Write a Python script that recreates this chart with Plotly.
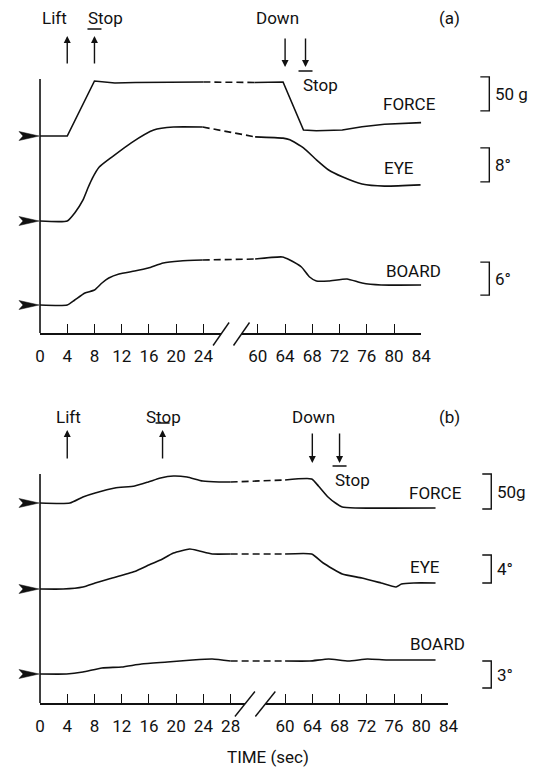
import plotly.graph_objects as go

FIG_W, FIG_H = 546, 767
INK = "#111111"
FONT_FAMILY = "Liberation Sans Narrow, Roboto, sans-serif"

# ---- values (time in s) ----
# panel (a)
A_FORCE_T = [0, 4, 8, 9.5, 11, 14, 18, 24, 59.5, 63.7, 66.7, 68.6, 72.4, 75.3, 78.6, 84]
A_FORCE_G = [0, 0, 80.9, 79.4, 77.9, 78.7, 79.4, 79.4, 78.7, 79.4, 8.8, 7.8, 8.8, 13.7, 17.2, 19.6]
A_EYE_T = [0, 4, 5.1, 6.3, 7.1, 7.7, 8.7, 10.6, 13.4, 16.7, 19.6, 23.9,
           59.6, 63.7, 64.7, 66.7, 68.6, 70.4, 72.4, 75.3, 78.6, 83.9]
A_EYE_DEG = [0, 0, 1.9, 4.9, 8.0, 10.1, 12.7, 15.1, 18.4, 21.4, 22.1, 22.1,
             19.8, 19.5, 19.1, 17.2, 14.4, 12.0, 10.4, 8.7, 8.2, 8.5]
A_BOARD_T = [0, 4, 5.1, 6.6, 8, 9.1, 10.1, 11.6, 13.9, 15.9, 18.1, 20.6, 23.9,
             59.6, 63.6, 64.7, 66.4, 67.6, 68.6, 70.4, 73.1, 75.3, 78.1, 84]
A_BOARD_DEG = [0, 0, 0.91, 2.18, 2.73, 4.0, 4.9, 5.64, 6.18, 6.73, 7.64, 8.0, 8.18,
               8.36, 8.73, 8.18, 6.91, 5.09, 4.36, 4.36, 4.73, 4.0, 3.64, 3.64]

# panel (b)
B_FORCE_T = [0, 4.4, 6.3, 8.1, 11, 13.9, 15.9, 17.7, 19.6, 21.6, 23.9, 26.3, 28,
             60, 63.9, 64.9, 66.3, 67.4, 68.4, 70.3, 82.1]
B_FORCE_G = [0, 0, 8.6, 14.3, 21.4, 24.3, 30, 35.7, 38.6, 37.1, 31.4, 30, 30,
             32.9, 34.3, 24.3, 8.6, 0, -5.7, -7.1, -7.1]
B_EYE_T = [0, 3.4, 6.3, 8.1, 10.1, 13.9, 16.3, 17.7, 19.6, 22, 23.4, 25.3, 28,
           60, 63.9, 65.6, 68.4, 71.3, 74.1, 76.3, 77.1, 78.9, 82.1]
B_EYE_DEG = [0, 0, 0.29, 0.86, 1.43, 2.5, 3.57, 4.14, 5.14, 5.71, 5.43, 5.0, 5.0,
             5.0, 5.0, 3.71, 2.14, 1.57, 0.86, 0.29, 0.71, 0.86, 0.86]
B_BOARD_T = [0, 3.9, 6.3, 9.1, 12, 14.9, 18.7, 22.4, 25.3, 28,
             60, 63.6, 66.4, 69.3, 72.1, 75, 82.1]
B_BOARD_DEG = [0, 0, 0.22, 0.67, 0.78, 1.11, 1.33, 1.56, 1.67, 1.44,
               1.44, 1.44, 1.67, 1.44, 1.67, 1.56, 1.56]

A_TICKS = [0, 4, 8, 12, 16, 20, 24, 60, 64, 68, 72, 76, 80, 84]
B_TICKS = [0, 4, 8, 12, 16, 20, 24, 28, 60, 64, 68, 72, 76, 80, 84]
EVENT_NAMES = ["Lift", "Stop", "Down", "Stop"]
A_EVENT_T = [4, 8, 64, 67]
B_EVENT_T = [4, 18, 64, 68]


def fx(p):
    return p / FIG_W


def fy(p):
    return 1 - p / FIG_H


# layout of the two panels (pixel positions on the page)
PANELS = [
    dict(tag="(a)", x="x", shift=28, x_end=56, ticks=A_TICKS, events=A_EVENT_T,
         bottom=333, top=40, line_top=79, brk=(26.6, 29.6), slash=(8, 11.5),
         up=(65, 36), down=(37, 67), text_y=18, stop_text_y=85, up_bar=29, down_bar=71,
         event_dx=[-13, 11, -8, 15], bar_x=498,
         signals=[
             dict(name="FORCE", t=A_FORCE_T, v=A_FORCE_G, y="y", base=136, gain=0.68,
                  bar=50, bar_from=37, bar_text="50 g", label=(416, 104), shape="linear"),
             dict(name="EYE", t=A_EYE_T, v=A_EYE_DEG, y="y2", base=221, gain=4.25,
                  bar=8, bar_from=9.2, bar_text="8°", label=(405, 168), shape="spline"),
             dict(name="BOARD", t=A_BOARD_T, v=A_BOARD_DEG, y="y3", base=305, gain=5.5,
                  bar=6, bar_from=1.8, bar_text="6°", label=(420, 271), shape="spline"),
         ]),
    dict(tag="(b)", x="x2", shift=24, x_end=60, ticks=B_TICKS, events=B_EVENT_T,
         bottom=703, top=440, line_top=474, brk=(30.1, 33.1), slash=(10, 12.5),
         up=(460, 430), down=(432, 463), text_y=417, stop_text_y=480, up_bar=423, down_bar=466,
         event_dx=[1, 1, 1, 13], bar_x=500,
         signals=[
             dict(name="FORCE", t=B_FORCE_T, v=B_FORCE_G, y="y4", base=503, gain=0.70,
                  bar=50, bar_from=-8.6, bar_text="50g", label=(443, 493), shape="spline"),
             dict(name="EYE", t=B_EYE_T, v=B_EYE_DEG, y="y5", base=589, gain=7.0,
                  bar=4, bar_from=0.86, bar_text="4°", label=(432, 567), shape="spline"),
             dict(name="BOARD", t=B_BOARD_T, v=B_BOARD_DEG, y="y6", base=674, gain=9.0,
                  bar=3, bar_from=-1.56, bar_text="3°", label=(445, 644), shape="spline"),
         ]),
]

X0_PX = 36
PX_PER_S = 7
CUT = 40


def to_axis(times, shift):
    return [t if t <= CUT else t - shift for t in times]


def axis_key(ref):
    return ref[0] + "axis" + ref[1:]


fig = go.Figure()
shapes = []
annotations = []
text_font = dict(family=FONT_FAMILY, size=17, color=INK)

for panel in PANELS:
    xref = panel["x"]
    shift = panel["shift"]
    base_y = panel["signals"][0]["y"]

    for sig in panel["signals"]:
        u = to_axis(sig["t"], shift)
        left = [i for i, t in enumerate(sig["t"]) if t <= CUT]
        right = [i for i, t in enumerate(sig["t"]) if t > CUT]
        line = dict(color=INK, width=1.6, shape=sig["shape"], smoothing=0.5)
        for idx in (left, right):
            fig.add_trace(go.Scatter(
                x=[u[i] for i in idx], y=[sig["v"][i] for i in idx],
                xaxis=xref, yaxis=sig["y"], mode="lines", line=line,
                name=sig["name"], hoverinfo="skip"))
        fig.add_trace(go.Scatter(
            x=[u[left[-1]], u[right[0]]], y=[sig["v"][left[-1]], sig["v"][right[0]]],
            xaxis=xref, yaxis=sig["y"], mode="lines",
            line=dict(color=INK, width=1.6, dash="7px,4px"), hoverinfo="skip"))

        lo = -(panel["bottom"] - sig["base"]) / sig["gain"]
        hi = (sig["base"] - panel["top"]) / sig["gain"]
        yax = dict(range=[lo, hi], visible=False, fixedrange=True)
        if sig["y"] == base_y:
            yax.update(domain=[fy(panel["bottom"]), fy(panel["top"])], anchor=xref)
        else:
            yax.update(overlaying=base_y, anchor=xref)
        fig.layout[axis_key(sig["y"])] = yax

        # baseline marker arrow at the vertical axis
        shapes.append(dict(
            type="path", xref="paper", xsizemode="pixel", xanchor=fx(X0_PX),
            yref=sig["y"], ysizemode="pixel", yanchor=0,
            path="M-21,4.5 L-1,0 L-21,-4.5 L-17,0 Z",
            fillcolor=INK, line=dict(color=INK, width=0.5)))
        # calibration bracket
        b0, b1 = sig["bar_from"], sig["bar_from"] + sig["bar"]
        shapes.append(dict(
            type="path", xref="paper", xsizemode="pixel", xanchor=fx(panel["bar_x"]),
            yref=sig["y"], path=f"M-9,{b1} L0,{b1} L0,{b0} L-9,{b0}",
            line=dict(color=INK, width=1.4)))
        annotations.append(dict(
            text=sig["bar_text"], xref="paper", x=fx(panel["bar_x"] + 4), xanchor="left",
            yref=sig["y"], y=(b0 + b1) / 2, yanchor="middle", showarrow=False, font=text_font))
        annotations.append(dict(
            text=sig["name"], xref="paper", yref="paper", x=fx(sig["label"][0]),
            y=fy(sig["label"][1]), xanchor="center", yanchor="middle",
            showarrow=False, font=text_font))

    fig.layout[axis_key(xref)] = dict(
        domain=[fx(X0_PX), fx(X0_PX + PX_PER_S * panel["x_end"])],
        range=[0, panel["x_end"]], anchor=base_y,
        showline=True, linecolor=INK, linewidth=1.6,
        ticks="inside", ticklen=9, tickwidth=1.3, tickcolor=INK,
        tickvals=to_axis(panel["ticks"], shift), ticktext=[str(t) for t in panel["ticks"]],
        ticklabelstandoff=7, tickfont=text_font,
        showgrid=False, zeroline=False, fixedrange=True)

    # vertical axis line
    shapes.append(dict(type="line", xref="paper", yref="paper",
                       x0=fx(X0_PX), x1=fx(X0_PX), y0=fy(panel["bottom"]), y1=fy(panel["line_top"]),
                       line=dict(color=INK, width=1.6)))
    # axis break: gap in the time axis and two slashes
    b_lo, b_hi = panel["brk"]
    shapes.append(dict(type="rect", xref=xref, x0=b_lo, x1=b_hi, yref="paper",
                       ysizemode="pixel", yanchor=fy(panel["bottom"]), y0=-3, y1=3,
                       fillcolor="white", line=dict(width=0), layer="above"))
    sw, sh = panel["slash"]
    for c in panel["brk"]:
        shapes.append(dict(type="line", xref=xref, xsizemode="pixel", xanchor=c, x0=-sw, x1=sw,
                           yref="paper", ysizemode="pixel", yanchor=fy(panel["bottom"]) - 1 / FIG_H,
                           y0=-sh, y1=sh, line=dict(color=INK, width=1.4)))

    # event markers
    ev_u = to_axis(panel["events"], shift)
    for i, (u, name) in enumerate(zip(ev_u, EVENT_NAMES)):
        tail, tip = panel["up"] if i < 2 else panel["down"]
        annotations.append(dict(
            text="", x=u, xref=xref, y=fy(tip), yref="paper", ax=0, ay=tail - tip,
            showarrow=True, arrowhead=2, arrowsize=1, arrowwidth=1.4, arrowcolor=INK,
            font=dict(size=2)))
        ty = panel["stop_text_y"] if i == 3 else panel["text_y"]
        annotations.append(dict(
            text=name, x=u, xref=xref, xshift=panel["event_dx"][i], y=fy(ty), yref="paper",
            xanchor="center", yanchor="middle", showarrow=False, font=text_font))
        if i in (1, 3):
            bar_y = panel["up_bar"] if i == 1 else panel["down_bar"]
            shapes.append(dict(type="line", xref=xref, xsizemode="pixel", xanchor=u, x0=-7, x1=7,
                               yref="paper", y0=fy(bar_y), y1=fy(bar_y),
                               line=dict(color=INK, width=1.3)))

    annotations.append(dict(text=panel["tag"], xref="paper", yref="paper", x=fx(457),
                            y=fy(panel["text_y"]), xanchor="center", yanchor="middle",
                            showarrow=False, font=text_font))

annotations.append(dict(text="TIME (sec)", xref="paper", yref="paper", x=fx(270), y=fy(757),
                        xanchor="center", yanchor="middle", showarrow=False, font=text_font))

fig.update_layout(
    width=FIG_W, height=FIG_H,
    margin=dict(l=0, r=0, t=0, b=0),
    paper_bgcolor="white", plot_bgcolor="rgba(0,0,0,0)",
    showlegend=False,
    shapes=shapes, annotations=annotations,
    font=text_font,
)

# the page body has a default 8px margin; drop it so the figure sits at the window origin
fig.write_html("out.html", config={"displayModeBar": False},
               post_script="document.body.style.margin='0';")
